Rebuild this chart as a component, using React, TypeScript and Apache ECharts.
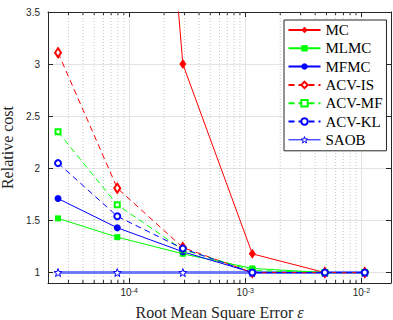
import React, { useEffect, useRef } from "react";
import * as echarts from "echarts";

// RMSE values (x) shared by all methods
const epsilon = [2.44e-5, 7.9e-5, 2.9e-4, 1.15e-3, 4.85e-3, 1.07e-2];
// Relative cost per method
const mc = [37, 10.6, 3.0, 1.18, 1.0, 1.0];
const mlmc = [1.52, 1.34, 1.18, 1.04, 1.0, 1.0];
const mfmc = [1.71, 1.43, 1.2, 1.0, 1.0, 1.0];
const acvIs = [3.11, 1.81, 1.24, 1.0, 1.0, 1.0];
const acvMf = [2.35, 1.65, 1.22, 1.02, 1.0, 1.0];
const acvKl = [2.05, 1.54, 1.23, 1.0, 1.0, 1.0];
const saob = [1.0, 1.0, 1.0, 1.0, 1.0, 1.0];

const seriesNames = ["MC", "MLMC", "MFMC", "ACV-IS", "ACV-MF", "ACV-KL", "SAOB"];

// Axis limits
const X_MIN = 2e-5;
const X_MAX = 1.8e-2;
const Y_MIN = 0.9;
const Y_MAX = 3.5;

// Log minor grid positions
const minorX = [
  3e-5, 4e-5, 5e-5, 6e-5, 7e-5, 8e-5, 9e-5,
  2e-4, 3e-4, 4e-4, 5e-4, 6e-4, 7e-4, 8e-4, 9e-4,
  2e-3, 3e-3, 4e-3, 5e-3, 6e-3, 7e-3, 8e-3, 9e-3,
];

const STAR =
  "path://M0,-10 L2.35,-3.24 L9.51,-3.09 L3.8,1.24 L5.88,8.09 L0,4 L-5.88,8.09 L-3.8,1.24 L-9.51,-3.09 L-2.35,-3.24 Z";

const RED = "#ff0000";
const GREEN = "#00ff00";
const BLUE = "#0000ff";
const AXIS = "#262626";
const SERIF = "'Liberation Serif', 'Times New Roman', serif";
const SANS = "'Liberation Sans', Arial, sans-serif";

function pairs(ys: number[]) {
  return epsilon.map((x, i) => [x, ys[i]]);
}

export default function App() {
  const ref = useRef<HTMLDivElement>(null);

  useEffect(() => {
    if (!ref.current) return;
    const chart = echarts.init(ref.current, undefined, { renderer: "svg" });

    const lineSeries = (
      name: string,
      ys: number[],
      color: string,
      symbol: string,
      symbolSize: number | number[],
      dashed: boolean,
      empty: boolean,
      extra: any = {}
    ) => ({
      type: "line",
      name,
      data: pairs(ys),
      symbol,
      symbolSize,
      showAllSymbol: true,
      z: 3,
      lineStyle: {
        color,
        width: 1,
        type: dashed ? [6, 4] : "solid",
      },
      itemStyle: empty
        ? { color, borderColor: color, borderWidth: 1 }
        : { color, borderWidth: 0 },
      emphasis: { disabled: true },
      ...extra,
    });

    const option: any = {
      animation: false,
      grid: {
        left: 48,
        top: 12,
        right: 2,
        bottom: 37,
        containLabel: false,
        outerBoundsMode: "none",
      },
      legend: {
        data: seriesNames.map((n) =>
          n === "SAOB"
            ? {
                name: n,
                lineStyle: { color: BLUE, width: 1, opacity: 1 },
                itemStyle: { color: "#ffffff", borderColor: BLUE, borderWidth: 1 },
              }
            : { name: n }
        ),
        orient: "vertical",
        left: 284,
        top: 20,
        padding: [2, 4, 3, 3.5],
        itemWidth: 32,
        itemHeight: 8,
        itemGap: 2.3,
        itemTextGap: 3.5,
        backgroundColor: "#ffffff",
        borderColor: AXIS,
        borderWidth: 1,
        borderRadius: 0,
        selectedMode: false,
        textStyle: {
          fontFamily: SERIF,
          fontSize: 15,
          lineHeight: 16,
          color: "#000",
        },
      },
      xAxis: [
        {
          type: "log",
          logBase: 10,
          min: X_MIN,
          max: X_MAX,
          position: "bottom",
          name: "Root Mean Square Error {i|ε}",
          nameLocation: "middle",
          nameGap: 21,
          nameTextStyle: {
            fontFamily: SERIF,
            fontSize: 16,
            color: AXIS,
            verticalAlign: "top",
            rich: {
              i: {
                fontFamily: SERIF,
                fontSize: 16,
                fontStyle: "italic",
                color: AXIS,
              },
            },
          },
          axisLine: { show: true, lineStyle: { color: AXIS, width: 1 } },
          axisTick: { show: true, inside: true, length: 5, lineStyle: { color: AXIS } },
          axisLabel: {
            margin: 4,
            showMinLabel: false,
            showMaxLabel: false,
            formatter: (v: number) => {
              const e = Math.round(Math.log10(v));
              return `{b|10}{s|${e}}`;
            },
            rich: {
              b: {
                fontFamily: SANS,
                fontSize: 10,
                color: AXIS,
                lineHeight: 10,
                verticalAlign: "bottom",
                padding: [4, 0, 0, 0],
              },
              s: {
                fontFamily: SANS,
                fontSize: 7,
                color: AXIS,
                lineHeight: 7,
                verticalAlign: "top",
              },
            },
          },
          splitLine: { show: true, lineStyle: { color: "#e3e3e3", width: 1 } },
        },
        {
          type: "log",
          logBase: 10,
          min: X_MIN,
          max: X_MAX,
          position: "top",
          axisLine: { show: true, lineStyle: { color: AXIS, width: 1 } },
          axisTick: { show: true, inside: true, length: 5, lineStyle: { color: AXIS } },
          axisLabel: { show: false },
          splitLine: { show: false },
        },
      ],
      yAxis: [
        {
          type: "value",
          min: Y_MIN,
          max: Y_MAX,
          position: "left",
          name: "Relative cost",
          nameLocation: "middle",
          nameGap: 25,
          nameTextStyle: { fontFamily: SERIF, fontSize: 16, color: AXIS },
          axisLine: { show: true, lineStyle: { color: AXIS, width: 1 } },
          axisTick: { show: true, inside: true, length: 5, lineStyle: { color: AXIS } },
          axisLabel: {
            showMinLabel: false,
            fontFamily: SANS,
            fontSize: 10,
            color: AXIS,
            margin: 8,
          },
          splitLine: { show: true, lineStyle: { color: "#e3e3e3", width: 1 } },
        },
        {
          type: "value",
          min: Y_MIN,
          max: Y_MAX,
          position: "right",
          axisLine: { show: true, lineStyle: { color: AXIS, width: 1 } },
          axisTick: { show: true, inside: true, length: 5, lineStyle: { color: AXIS } },
          axisLabel: { show: false },
          splitLine: { show: false },
        },
      ],
      series: [
        {
          type: "custom",
          name: "minorGrid",
          silent: true,
          z: 1,
          xAxisIndex: 0,
          yAxisIndex: 0,
          data: minorX.map((v) => [v, Y_MIN]),
          encode: { x: 0, y: 1 },
          renderItem: (params: any, api: any) => {
            const x = api.value(0);
            const pb = api.coord([x, Y_MIN]);
            const pt = api.coord([x, Y_MAX]);
            return {
              type: "group",
              children: [
                {
                  type: "line",
                  shape: { x1: pb[0], y1: pb[1], x2: pt[0], y2: pt[1] },
                  style: { stroke: "#c4c4c4", lineWidth: 1, lineDash: [1, 2] },
                },
                {
                  type: "line",
                  shape: { x1: pb[0], y1: pb[1], x2: pb[0], y2: pb[1] - 3 },
                  style: { stroke: AXIS, lineWidth: 1 },
                },
                {
                  type: "line",
                  shape: { x1: pt[0], y1: pt[1], x2: pt[0], y2: pt[1] + 3 },
                  style: { stroke: AXIS, lineWidth: 1 },
                },
              ],
            };
          },
        },
        lineSeries("SAOB", saob, BLUE, STAR, 8, false, true, {
          z: 2,
          lineStyle: { color: "rgba(40,60,255,0.65)", width: 3 },
          itemStyle: { color: "#ffffff", borderColor: BLUE, borderWidth: 1 },
        }),
        lineSeries("MC", mc, RED, "diamond", [7, 10], false, false),
        lineSeries("MLMC", mlmc, GREEN, "rect", 6, false, false),
        lineSeries("MFMC", mfmc, BLUE, "circle", 7, false, false),
        lineSeries("ACV-IS", acvIs, RED, "emptyDiamond", [6, 9], true, true),
        lineSeries("ACV-MF", acvMf, GREEN, "emptyRect", 5, true, true),
        lineSeries("ACV-KL", acvKl, BLUE, "emptyCircle", 6, true, true),
      ],
    };

    chart.setOption(option);
    return () => chart.dispose();
  }, []);

  return (
    <div
      ref={ref}
      style={{ position: "fixed", left: 0, top: 0, width: 393, height: 320, background: "#fff" }}
    />
  );
}
